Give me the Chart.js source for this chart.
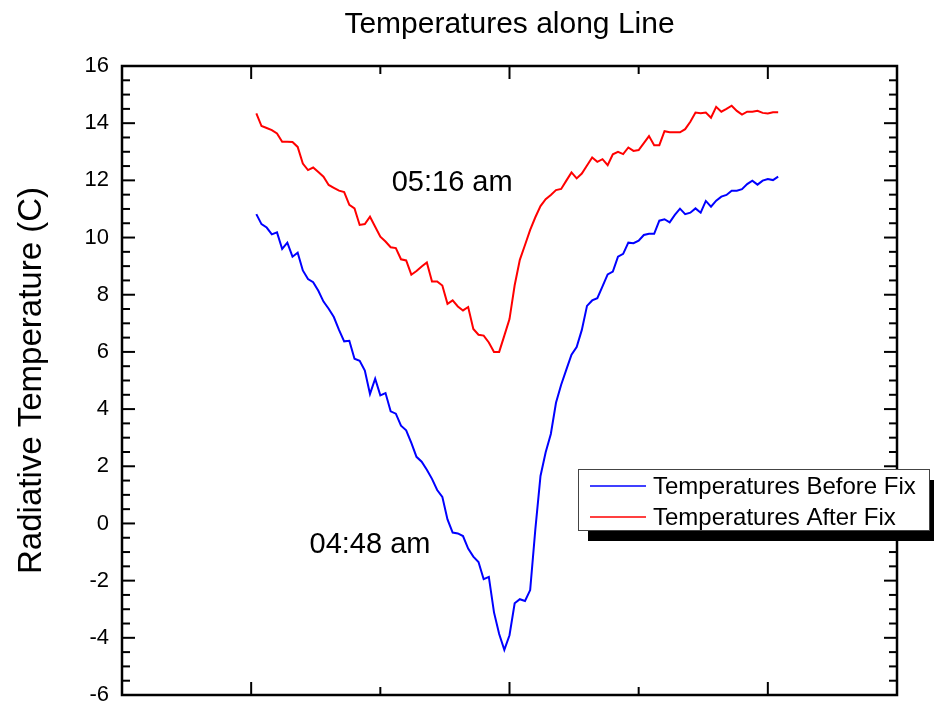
<!DOCTYPE html>
<html>
<head>
<meta charset="utf-8">
<script src="https://cdn.jsdelivr.net/npm/chart.js@4/dist/chart.umd.min.js"></script>
<style>
  html, body { margin: 0; padding: 0; background: #fff; }
  #wrap { width: 934px; height: 705px; position: relative; }
</style>
</head>
<body>
<div id="wrap"><canvas id="c"></canvas></div>
<script>
// ---- data ----
const samples = [1,2,3,4,5,6,7,8,9,10,11,12,13,14,15,16,17,18,19,20,
  21,22,23,24,25,26,27,28,29,30,31,32,33,34,35,36,37,38,39,40,
  41,42,43,44,45,46,47,48,49,50,51,52,53,54,55,56,57,58,59,60,
  61,62,63,64,65,66,67,68,69,70,71,72,73,74,75,76,77,78,79,80,
  81,82,83,84,85,86,87,88,89,90,91,92,93,94,95,96,97,98,99,100,101,102];

const beforeFix = [10.82,10.47,10.35,10.11,10.18,9.60,9.82,9.33,9.47,8.85,
  8.55,8.44,8.14,7.76,7.51,7.22,6.77,6.37,6.39,5.76,
  5.69,5.35,4.53,5.06,4.48,4.56,3.92,3.84,3.42,3.26,
  2.82,2.33,2.16,1.88,1.56,1.17,0.93,0.14,-0.32,-0.35,
  -0.44,-0.88,-1.16,-1.35,-1.95,-1.87,-3.11,-3.87,-4.42,-3.91,
  -2.79,-2.65,-2.71,-2.33,-0.21,1.66,2.49,3.13,4.22,4.85,
  5.38,5.90,6.17,6.77,7.61,7.80,7.88,8.29,8.71,8.81,
  9.33,9.43,9.82,9.80,9.89,10.09,10.13,10.13,10.59,10.64,
  10.53,10.79,11.01,10.82,10.87,11.02,10.87,11.28,11.08,11.29,
  11.43,11.49,11.64,11.64,11.69,11.87,11.99,11.85,11.99,12.05,12.01,12.13];

const afterFix = [14.34,13.90,13.83,13.76,13.64,13.35,13.35,13.34,13.17,12.59,
  12.36,12.45,12.29,12.13,11.84,11.74,11.64,11.59,11.14,11.02,
  10.44,10.47,10.73,10.38,10.03,9.86,9.66,9.63,9.24,9.20,
  8.70,8.83,8.99,9.13,8.46,8.46,8.32,7.68,7.80,7.59,
  7.45,7.57,6.80,6.60,6.57,6.33,6.00,6.00,6.57,7.15,
  8.33,9.22,9.74,10.27,10.71,11.10,11.34,11.49,11.66,11.70,
  11.99,12.28,12.07,12.24,12.52,12.80,12.65,12.74,12.53,12.91,
  13.00,12.92,13.15,13.03,13.06,13.30,13.55,13.23,13.23,13.72,
  13.68,13.68,13.68,13.79,14.05,14.37,14.35,14.37,14.19,14.57,
  14.40,14.50,14.61,14.43,14.30,14.40,14.40,14.43,14.36,14.34,14.38,14.38];

const seriesNames = ['Temperatures Before Fix', 'Temperatures After Fix'];
const xMajorTicks = [0, 50, 100];
const xMinorTicks = [25, 75];
const annotations = [
  { text: '05:16 am', x: 38.9, y: 11.9 },
  { text: '04:48 am', x: 23.0, y: -0.75 }
];

// ---- chart ----
const FONT = "'Liberation Sans', Arial, Helvetica, sans-serif";
Chart.defaults.color = '#000';
Chart.defaults.font.family = FONT;

const toPts = (ys) => samples.map((s, i) => ({ x: s, y: ys[i] }));

const framePlugin = {
  id: 'frame',
  afterDatasetsDraw(chart) {
    const { ctx, chartArea: a, scales: { x, y } } = chart;
    ctx.save();
    ctx.strokeStyle = '#000';
    ctx.lineCap = 'butt';
    const seg = (x1, y1, x2, y2) => { ctx.beginPath(); ctx.moveTo(x1, y1); ctx.lineTo(x2, y2); ctx.stroke(); };
    ctx.lineWidth = 2;
    // y ticks (left + right), major every 2, minor every 0.5
    for (let v = y.min; v <= y.max + 1e-9; v += 0.5) {
      const major = Math.abs(v / 2 - Math.round(v / 2)) < 1e-6;
      const len = major ? 13 : 8;
      const py = y.getPixelForValue(v);
      seg(a.left, py, a.left + len, py);
      seg(a.right, py, a.right - len, py);
    }
    // x ticks (bottom + top)
    xMajorTicks.forEach(v => {
      const px = x.getPixelForValue(v);
      seg(px, a.bottom, px, a.bottom - 13);
      seg(px, a.top, px, a.top + 13);
    });
    xMinorTicks.forEach(v => {
      const px = x.getPixelForValue(v);
      seg(px, a.bottom, px, a.bottom - 8);
      seg(px, a.top, px, a.top + 8);
    });
    ctx.lineWidth = 2.5;
    ctx.strokeRect(a.left, a.top, a.right - a.left, a.bottom - a.top);
    ctx.restore();
  },
  afterDraw(chart) {
    const { ctx, scales: { x, y } } = chart;
    ctx.save();
    // annotations
    ctx.fillStyle = '#000';
    ctx.font = '29px ' + FONT;
    ctx.textAlign = 'center';
    ctx.textBaseline = 'middle';
    annotations.forEach(an => {
      ctx.fillText(an.text, x.getPixelForValue(an.x), y.getPixelForValue(an.y));
    });
    // legend box with shadow
    const L = 578, T = 469, W = 351, H = 61;
    ctx.fillStyle = '#000';
    ctx.fillRect(L + 10, T + 11, W, H);
    ctx.fillStyle = '#fff';
    ctx.fillRect(L, T, W, H);
    ctx.strokeStyle = '#444';
    ctx.lineWidth = 1;
    ctx.strokeRect(L + 0.5, T + 0.5, W, H);
    ctx.font = '24px ' + FONT;
    ctx.textAlign = 'left';
    chart.data.datasets.forEach((ds, i) => {
      const ly = T + 17 + i * 31;
      ctx.strokeStyle = ds.borderColor;
      ctx.lineWidth = 1.5;
      ctx.beginPath(); ctx.moveTo(L + 12, ly); ctx.lineTo(L + 68, ly); ctx.stroke();
      ctx.fillStyle = '#000';
      ctx.fillText(ds.label, L + 75, ly + 1);
    });
    ctx.restore();
  }
};

new Chart(document.getElementById('c'), {
  type: 'line',
  data: {
    datasets: [
      { label: seriesNames[0], data: toPts(beforeFix), borderColor: '#0000ff', borderWidth: 2, pointRadius: 0, tension: 0, fill: false },
      { label: seriesNames[1], data: toPts(afterFix), borderColor: '#ff0000', borderWidth: 2, pointRadius: 0, tension: 0, fill: false }
    ]
  },
  options: {
    responsive: true,
    maintainAspectRatio: false,
    animation: false,
    layout: { padding: { left: 0, right: 37, top: 0, bottom: 0 } },
    plugins: {
      legend: { display: false },
      tooltip: { enabled: false },
      title: {
        display: true,
        text: 'Temperatures along Line',
        fullSize: false,
        color: '#000',
        font: { size: 30, weight: 'normal', family: FONT },
        padding: { top: 7, bottom: 23 }
      }
    },
    scales: {
      x: {
        type: 'linear',
        min: -25, max: 125,
        grid: { display: false, drawTicks: false },
        border: { display: false },
        ticks: { display: false },
        afterFit(s) { s.height = 10; s.paddingLeft = 0; s.paddingRight = 0; }
      },
      y: {
        min: -6, max: 16,
        grid: { display: false, drawTicks: false },
        border: { display: false },
        ticks: { stepSize: 2, padding: 13, font: { size: 22, family: FONT }, color: '#000' },
        title: {
          display: true,
          text: 'Radiative Temperature (C)',
          color: '#000',
          font: { size: 33, weight: 'normal', family: FONT },
          padding: { top: 12, bottom: 0 }
        },
        afterFit(s) { s.width = 122; s.paddingTop = 0; s.paddingBottom = 0; }
      }
    }
  },
  plugins: [framePlugin]
});
</script>
</body>
</html>
